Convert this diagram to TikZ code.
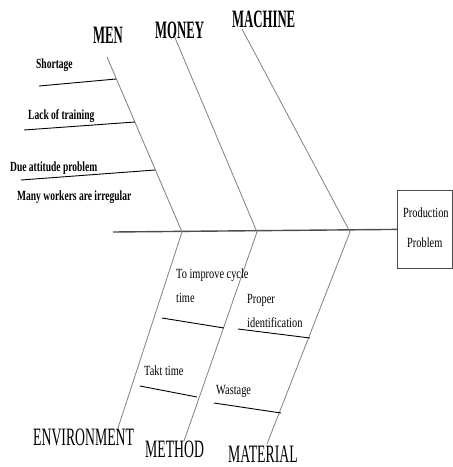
\documentclass[tikz,border=0pt]{standalone}
\usepackage{fontspec}
\setmainfont{Liberation Serif}[FakeStretch=0.74]
\newfontfamily\catfont{Liberation Serif}[FakeStretch=0.55]
\newfontfamily\catbffont{Liberation Serif}[FakeStretch=0.51]
\newfontfamily\narrowfont{Liberation Serif}[FakeStretch=0.68]
\usepackage{tikz}
\usetikzlibrary{positioning}

\begin{document}
\begin{tikzpicture}[x=1pt, y=-1pt,
    bone/.style={draw=gray, line width=0.8pt},
    spine/.style={draw=black!70, line width=1.4pt},
    cause/.style={draw=black, line width=0.9pt},
    catlabel/.style={inner sep=0, anchor=base west, font=\catfont\fontsize{25}{28}\selectfont},
    catbf/.style={catlabel, font=\catbffont\bfseries\fontsize{25}{28}\selectfont},
    txt/.style={inner sep=0, anchor=base west, font=\fontsize{14}{16}\selectfont},
    txtbf/.style={txt, font=\narrowfont\bfseries\fontsize{14}{16}\selectfont}]
    \useasboundingbox (0, 0) rectangle (453, 467);

    % head of the fish
    \node(head) [draw=black!70, line width=0.8pt, minimum width=55pt, minimum height=78pt, anchor=north west] at (397, 190) {};
    \node(prod) [txt] at (403, 217) {Production};
    \node(prob) [txt] at (407, 247) {Problem};

    % spine and joints
    \coordinate(tail) at (113, 232);
    \coordinate(j1) at (182, 232);
    \coordinate(j2) at (257, 232);
    \coordinate(j3) at (350, 232);
    \draw[spine] (tail) -- (head.west);

    % main bones
    \coordinate(menEnd) at (107, 57);
    \coordinate(monEnd) at (173, 33);
    \coordinate(macEnd) at (242, 29);
    \coordinate(envEnd) at (118, 428);
    \coordinate(metEnd) at (184, 441);
    \coordinate(matEnd) at (267, 444);
    \draw[bone] (menEnd) -- (j1) -- (envEnd);
    \draw[bone] (monEnd) -- (j2) -- (metEnd);
    \draw[bone] (macEnd) -- (j3) -- (matEnd);

    \node(men) [catbf] at (93, 43) {MEN};
    \node(money) [catbf] at (155, 38) {MONEY};
    \node(machine) [catbf] at (232, 27) {MACHINE};
    \node(env) [catlabel] at (33, 445) {ENVIRONMENT};
    \node(method) [catlabel] at (145, 457) {METHOD};
    \node(material) [catlabel] at (228, 462) {MATERIAL};

    % causes
    \coordinate(c1a) at (39, 86);   \coordinate(c1b) at (116, 79);
    \coordinate(c2a) at (24, 130);  \coordinate(c2b) at (135, 122);
    \coordinate(c3a) at (21, 180);  \coordinate(c3b) at (155, 170);
    \coordinate(c4a) at (162, 318); \coordinate(c4b) at (224, 328);
    \coordinate(c5a) at (140, 386); \coordinate(c5b) at (197, 397);
    \coordinate(c6a) at (238, 329); \coordinate(c6b) at (310, 338);
    \coordinate(c7a) at (214, 403); \coordinate(c7b) at (281, 413);
    \foreach \c in {c1, c2, c3, c4, c5, c6, c7}
        \draw[cause] (\c a) -- (\c b);

    \node(short) [txtbf] at (36, 68) {Shortage};
    \node(lack) [txtbf] at (28, 119) {Lack of training};
    \node(due) [txtbf] at (10, 171) {Due attitude problem};
    \node(many) [txtbf] at (17, 200) {Many workers are irregular};
    \node(impr) [txt] at (176, 278) {To improve cycle};
    \node(time) [txt] at (176, 302) {time};
    \node(takt) [txt] at (144, 375) {Takt time};
    \node(proper) [txt] at (247, 303) {Proper};
    \node(ident) [txt] at (247, 327) {identification};
    \node(waste) [txt] at (216, 394) {Wastage};
\end{tikzpicture}
\end{document}
